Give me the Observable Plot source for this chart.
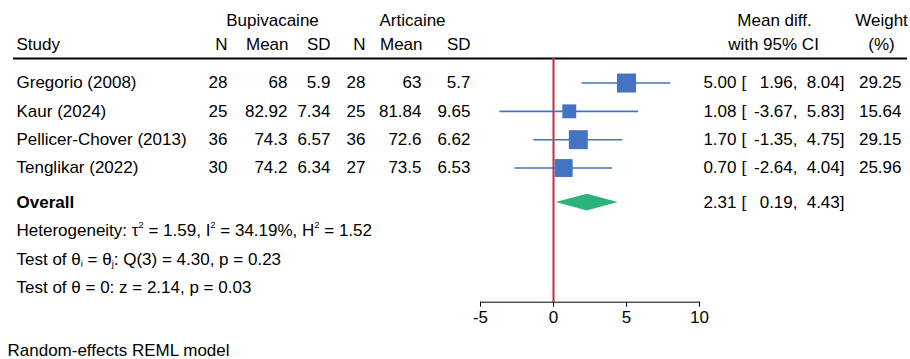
<!DOCTYPE html>
<html>
<head>
<meta charset="utf-8">
<script src="https://cdn.jsdelivr.net/npm/d3@7"></script>
<script src="https://cdn.jsdelivr.net/npm/@observablehq/plot@0.6"></script>
<style>
  html, body { margin: 0; padding: 0; background: #fff; }
  #chart svg { display: block; }
</style>
</head>
<body>
<div id="chart"></div>
<script>
// ---------------- data ----------------
const studies = ["Gregorio (2008)", "Kaur (2024)", "Pellicer-Chover (2013)", "Tenglikar (2022)"];
const bupN = [28, 25, 36, 30];
const bupMean = ["68", "82.92", "74.3", "74.2"];
const bupSD = ["5.9", "7.34", "6.57", "6.34"];
const artN = [28, 25, 36, 27];
const artMean = ["63", "81.84", "72.6", "73.5"];
const artSD = ["5.7", "9.65", "6.62", "6.53"];
const meanDiff = [5.00, 1.08, 1.70, 0.70];
const ciLow = [1.96, -3.67, -1.35, -2.64];
const ciHigh = [8.04, 5.83, 4.75, 4.04];
const weights = [29.25, 15.64, 29.15, 25.96];
const overall = { est: 2.31, lo: 0.19, hi: 4.43 };
const statLines = [
  "Heterogeneity: τ^{2} = 1.59, I^{2} = 34.19%, H^{2} = 1.52",
  "Test of θ_{i} = θ_{j}: Q(3) = 4.30, p = 0.23",
  "Test of θ = 0: z = 2.14, p = 0.03"
];
const xTicks = [-5, 0, 5, 10];
const footnote = "Random-effects REML model";

// ---------------- layout ----------------
const W = 910, H = 359;
const ML = 480, MR = W - 699;
const rowH = 28.33, row0px = 54.2, axisPx = 301.7;
const fs = 17;
const font = "'Liberation Sans', Arial, Helvetica, sans-serif";
const rowHeadTop = -1.2, rowHeadSub = -0.36, rowRule = 0.134;
const rowOverall = studies.length + 1.22;
const rowFoot = 10.44;
const blue = "#4472c4", green = "#2bb37c", red = "#c8283c";

const rows = studies.map((s, i) => ({
  study: s, bN: bupN[i], bM: bupMean[i], bS: bupSD[i],
  aN: artN[i], aM: artMean[i], aS: artSD[i],
  md: meanDiff[i], lo: ciLow[i], hi: ciHigh[i], w: weights[i], row: i + 1
}));
const overallRow = [{ ...overall, row: rowOverall }];
const stats = statLines.map((t, k) => ({ t, row: rowOverall + 1 + k }));
const dh = 0.295; // diamond half height in rows
const diamond = [
  { x: overall.lo, y1: rowOverall, y2: rowOverall },
  { x: overall.est, y1: rowOverall - dh, y2: rowOverall + dh },
  { x: overall.hi, y1: rowOverall, y2: rowOverall }
];

function txt(data, text, xpx, anchor, y, extra = {}) {
  return Plot.text(data, {
    y, text, frameAnchor: "left", dx: xpx - ML, textAnchor: anchor,
    fontSize: fs, fill: "#000", ...extra
  });
}
const one = [0];
const hdr = (label, xpx, anchor, row) => txt(one, () => label, xpx, anchor, () => row);

const plot = Plot.plot({
  width: W, height: H,
  marginLeft: ML, marginRight: MR, marginTop: 0, marginBottom: H - axisPx,
  style: { fontFamily: font, fontSize: fs + "px", color: "#000", background: "#fff" },
  x: { domain: [-5, 10] },
  y: { domain: [-row0px / rowH, (axisPx - row0px) / rowH], range: [0, axisPx], axis: null },
  r: { type: "sqrt", domain: [0, d3.max(weights)], range: [0, 10.72] },
  marks: [
    // headers
    hdr("Bupivacaine", 272, "middle", rowHeadTop),
    hdr("Articaine", 412, "middle", rowHeadTop),
    hdr("Mean diff.", 774, "middle", rowHeadTop),
    hdr("Weight", 881, "middle", rowHeadTop),
    hdr("Study", 16, "start", rowHeadSub),
    hdr("N", 227, "end", rowHeadSub),
    hdr("Mean", 288, "end", rowHeadSub),
    hdr("SD", 330, "end", rowHeadSub),
    hdr("N", 365, "end", rowHeadSub),
    hdr("Mean", 422, "end", rowHeadSub),
    hdr("SD", 470, "end", rowHeadSub),
    hdr("with 95% CI", 773, "middle", rowHeadSub),
    hdr("(%)", 881, "middle", rowHeadSub),
    Plot.ruleY([rowRule], { stroke: "#000", strokeWidth: 2, insetLeft: -(ML - 13), insetRight: -(907 - (W - MR)) }),
    // study table
    txt(rows, "study", 16, "start", "row"),
    txt(rows, "bN", 227, "end", "row"),
    txt(rows, "bM", 287, "end", "row"),
    txt(rows, "bS", 330, "end", "row"),
    txt(rows, "aN", 365, "end", "row"),
    txt(rows, "aM", 421, "end", "row"),
    txt(rows, "aS", 470, "end", "row"),
    txt(rows, d => d.md.toFixed(2), 736, "end", "row"),
    txt(rows, () => "[", 741, "start", "row"),
    txt(rows, d => d.lo.toFixed(2) + ",", 797, "end", "row"),
    txt(rows, d => d.hi.toFixed(2) + "]", 844, "end", "row"),
    txt(rows, d => d.w.toFixed(2), 901, "end", "row"),
    // overall
    txt(overallRow, () => "Overall", 16, "start", "row", { fontWeight: "bold" }),
    txt(overallRow, d => d.est.toFixed(2), 736, "end", "row"),
    txt(overallRow, () => "[", 741, "start", "row"),
    txt(overallRow, d => d.lo.toFixed(2) + ",", 797, "end", "row"),
    txt(overallRow, d => d.hi.toFixed(2) + "]", 844, "end", "row"),
    txt(stats, "t", 16, "start", "row"),
    txt(one, () => footnote, 7, "start", () => rowFoot),
    // reference line
    Plot.ruleX([0], { y1: rowRule, y2: (axisPx - row0px) / rowH, stroke: red, strokeWidth: 2 }),
    // CIs and squares
    Plot.ruleY(rows, { y: "row", x1: "lo", x2: "hi", stroke: blue, strokeWidth: 1.6 }),
    Plot.dot(rows, { x: "md", y: "row", r: "w", symbol: "square", fill: blue, stroke: null }),
    // diamond
    Plot.areaY(diamond, { x: "x", y1: "y1", y2: "y2", fill: green }),
    // axis
    Plot.frame({ anchor: "bottom", stroke: "#000" }),
    Plot.axisX({ ticks: xTicks, tickFormat: d => String(d), tickSize: 5, tickPadding: 4, fontSize: fs, label: null, anchor: "bottom" })
  ]
});

// super/subscripts
plot.querySelectorAll("text").forEach(t => {
  const s = t.textContent;
  if (!/[\^_]\{/.test(s)) return;
  t.textContent = "";
  const re = /([\^_])\{([^}]*)\}/g;
  let last = 0, m;
  const ns = "http://www.w3.org/2000/svg";
  while ((m = re.exec(s))) {
    if (m.index > last) {
      const a = document.createElementNS(ns, "tspan");
      a.textContent = s.slice(last, m.index);
      t.appendChild(a);
    }
    const b = document.createElementNS(ns, "tspan");
    b.textContent = m[2];
    b.setAttribute("font-size", "55%");
    b.setAttribute("baseline-shift", m[1] === "^" ? "85%" : "-25%");
    t.appendChild(b);
    last = re.lastIndex;
  }
  if (last < s.length) {
    const a = document.createElementNS(ns, "tspan");
    a.textContent = s.slice(last);
    t.appendChild(a);
  }
});

document.getElementById("chart").appendChild(plot);
</script>
</body>
</html>
